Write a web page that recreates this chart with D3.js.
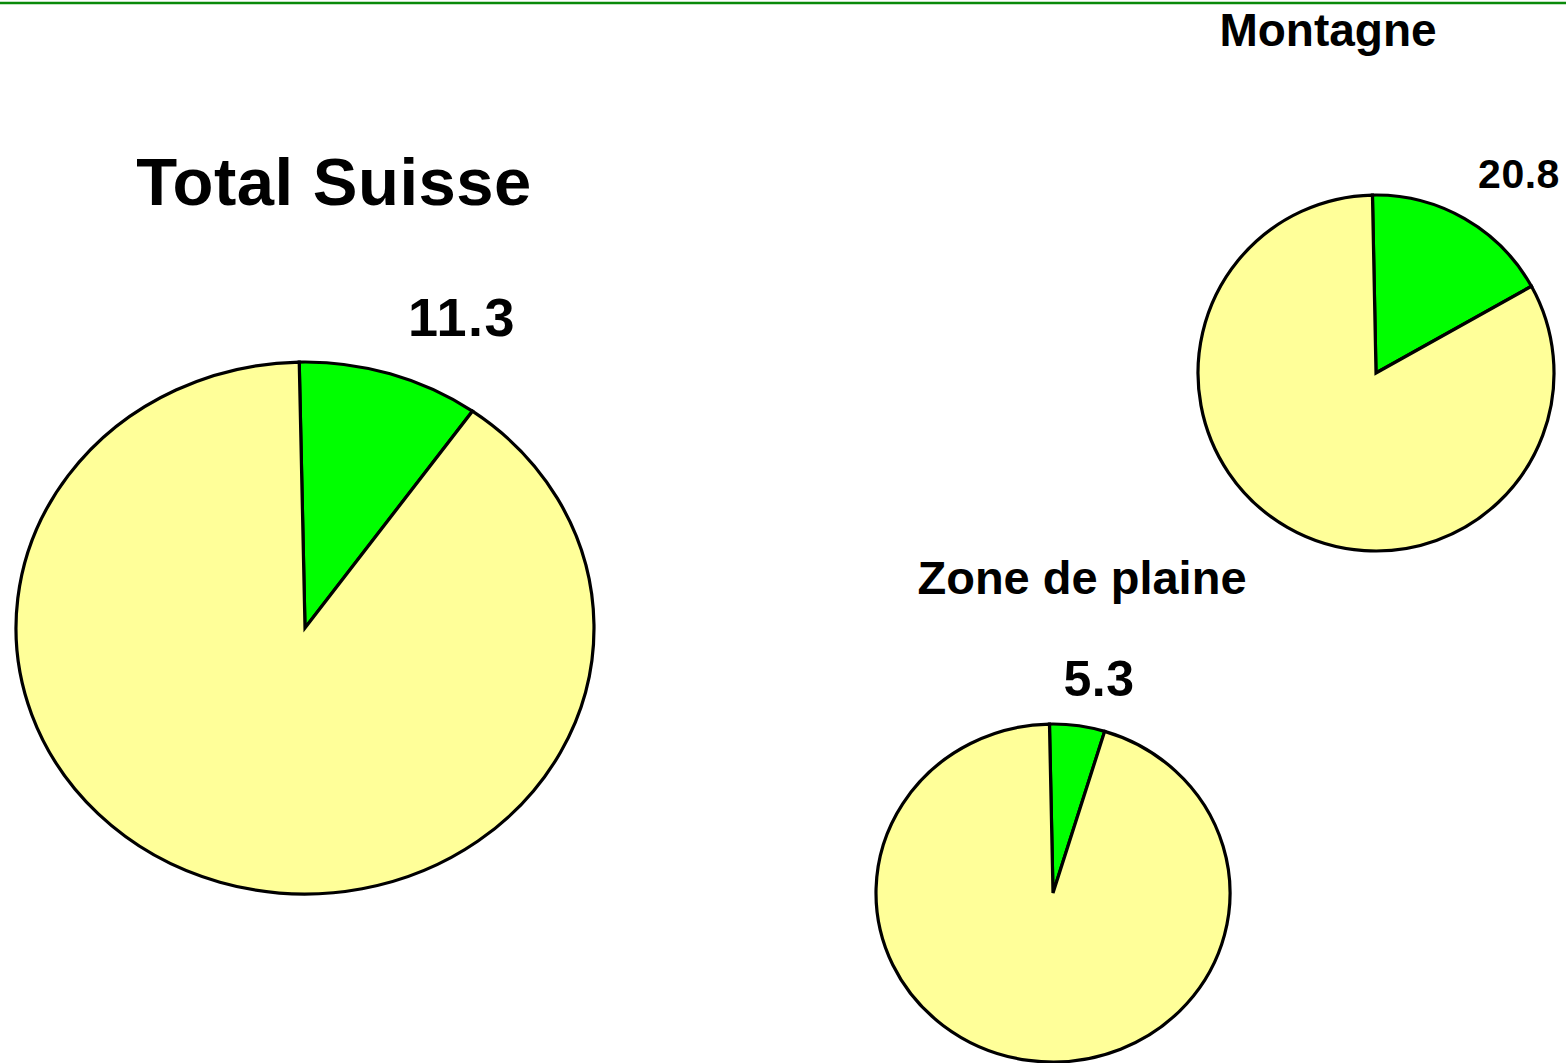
<!DOCTYPE html>
<html>
<head>
<meta charset="utf-8">
<script src="https://cdn.jsdelivr.net/npm/d3@7"></script>
<style>
  body { margin: 0; background: #fff; }
  svg { display: block; font-family: Arial, "Liberation Sans", sans-serif; font-weight: bold; }
</style>
</head>
<body>
<div id="chart"></div>
<script>
// regions and their share (label value vs. the remaining 100)
var regions = ["Total Suisse", "Montagne", "Zone de plaine"];
var shares = [11.3, 20.8, 5.3];
var rest = [100, 100, 100];
var colors = ["#00ff00", "#ffff99"];

var width = 1566, height = 1063;

// layout of each pie (centre, radii, title, label)
var layout = [
  {cx: 305, cy: 628, rx: 289, ry: 266, titleX: 334, titleY: 205, titleSize: 67, titleSp: 0.5, labX: 462, labY: 336, labSize: 54, labSp: 1.5},
  {cx: 1376, cy: 373, rx: 178, ry: 178, titleX: 1328, titleY: 46, titleSize: 46, titleSp: 0, labX: 1519, labY: 188, labSize: 41, labSp: 0.5},
  {cx: 1053, cy: 893, rx: 177, ry: 169, titleX: 1082, titleY: 594, titleSize: 47, titleSp: 0, labX: 1099, labY: 696, labSize: 50, labSp: 0.5}
];

var svg = d3.select("#chart").append("svg")
  .attr("width", width)
  .attr("height", height);

// green rule at the top
svg.append("line")
  .attr("x1", 0).attr("x2", width)
  .attr("y1", 3).attr("y2", 3)
  .style("stroke", "#0a8a0a")
  .style("stroke-width", 2.5);

var pie = d3.pie().sort(null).startAngle(-0.02).endAngle(2 * Math.PI - 0.02);

regions.forEach(function(name, i) {
  var L = layout[i];
  var arcs = pie([shares[i], rest[i]]);
  var arc = d3.arc().innerRadius(0).outerRadius(L.rx);

  var g = svg.append("g")
    .attr("transform", "translate(" + L.cx + "," + L.cy + ") scale(1," + (L.ry / L.rx) + ")");

  g.selectAll("path")
    .data(arcs)
    .enter().append("path")
    .attr("d", arc)
    .attr("vector-effect", "non-scaling-stroke")
    .style("fill", function(d, j) { return colors[j]; })
    .style("stroke", "#000")
    .style("stroke-width", 3.2)
    .style("stroke-linejoin", "miter");

  svg.append("text")
    .attr("x", L.titleX)
    .attr("y", L.titleY)
    .attr("text-anchor", "middle")
    .style("font-size", L.titleSize + "px")
    .style("letter-spacing", L.titleSp + "px")
    .text(name);

  svg.append("text")
    .attr("x", L.labX)
    .attr("y", L.labY)
    .attr("text-anchor", "middle")
    .style("font-size", L.labSize + "px")
    .style("letter-spacing", L.labSp + "px")
    .text(d3.format(".1f")(shares[i]));
});
</script>
</body>
</html>
